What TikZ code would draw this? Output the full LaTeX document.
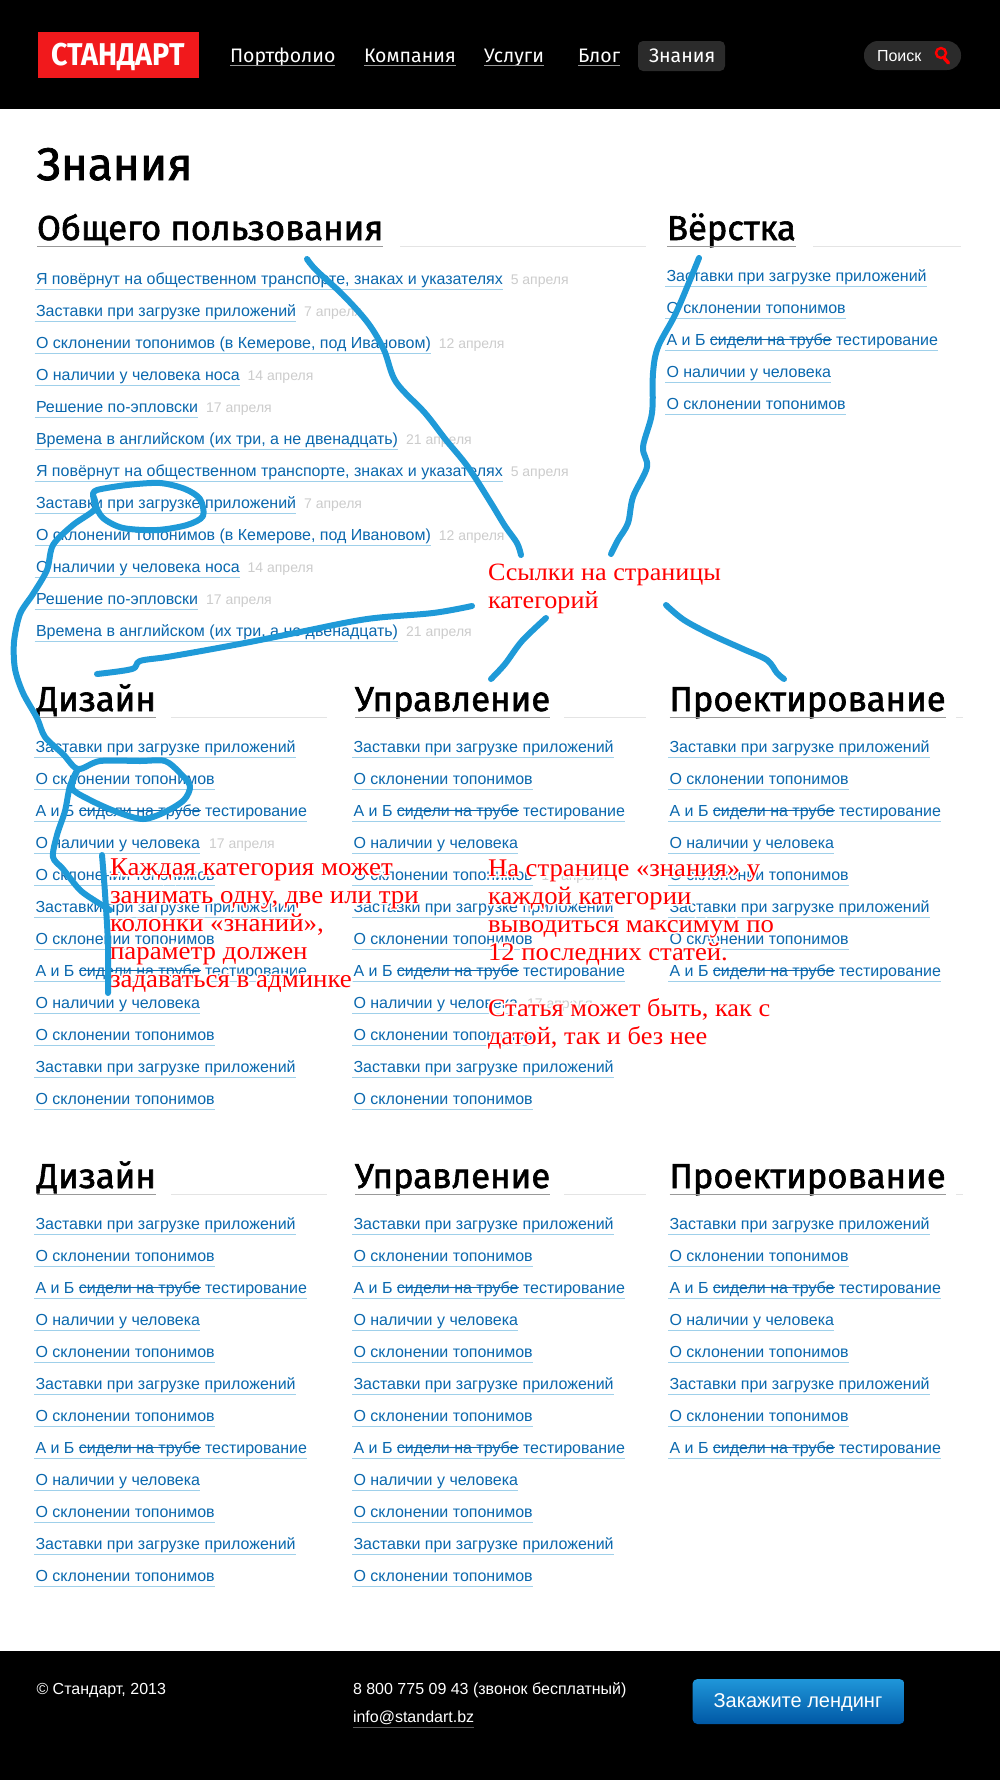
\documentclass[tikz,border=0pt]{standalone}
\usepackage{fontspec}
\setmainfont{Liberation Sans}
\newfontfamily\headf[FakeBold=1.7]{Fira Sans}
\newfontfamily\navf{Fira Sans}
\newfontfamily\logof[FakeStretch=0.91]{Fira Sans}
\newfontfamily\redf[FakeStretch=1.05]{Liberation Serif}
\newfontfamily\haloredf[FakeStretch=1.05,FakeBold=13]{Liberation Serif}
\definecolor{lnk}{HTML}{0A68AE}
\definecolor{ulc}{HTML}{9FD0EA}
\definecolor{dat}{HTML}{CCCCCC}
\definecolor{pen}{HTML}{1F9AD8}
\definecolor{hl}{HTML}{999999}
\definecolor{hs}{HTML}{E4E4E4}
\definecolor{redt}{HTML}{FF0000}
\definecolor{logor}{HTML}{F1191C}
\definecolor{pill}{HTML}{2B2B2B}
\definecolor{btna}{HTML}{1F96D9}
\definecolor{btnb}{HTML}{0058A5}
\tikzset{
 x=1pt,y=-1pt,
 every node/.style={inner sep=0pt,outer sep=0pt},
 linktxt/.style={anchor=base west,text=lnk,font=\fontsize{16}{16}\selectfont},
 datetxt/.style={anchor=base west,text=dat,font=\fontsize{14}{14}\selectfont},
 ulline/.style={draw=ulc,line width=1pt},
 bigh/.style={anchor=base west,text=black,font=\headf\fontsize{34.6}{34.6}\selectfont},
 navtxt/.style={anchor=base west,text=white,font=\navf\fontsize{19.5}{19.5}\selectfont},
 foot/.style={anchor=base west,text=white,font=\fontsize{16}{16}\selectfont},
 redtxt/.style={anchor=base west,text=redt,font=\redf\fontsize{#1}{#1}\selectfont},
 halotxt/.style={anchor=base west,text=white,font=\haloredf\fontsize{#1}{#1}\selectfont},
 penline/.style={draw=pen,line width=6pt,line cap=round,line join=round},
}
\newcommand{\stk}[1]{\setbox0=\hbox{#1}\rlap{\rule[0.3em]{\wd0}{0.9pt}}\box0{}}
\newcommand{\abt}{А и Б \stk{сидели на трубе} тестирование}
% \lnk{name}{x}{y}{text}
\newcommand{\lnk}[4]{\node[linktxt] (#1) at (#2,#3) {#4};
 \draw[ulline] ([xshift=-1.5pt,yshift=-5pt]#1.base west) -- ([yshift=-5pt]#1.base east);}
% \hd{name}{x}{baseline}{text}{light start}{light end}
\newcommand{\hd}[6]{\node[bigh] (#1) at (#2,#3) {#4};
 \draw[draw=hl,line width=1pt] ([yshift=-6.5pt]#1.base west) -- ([yshift=-6.5pt]#1.base east);
 \coordinate (#1a) at (#5,#3+6.5); \coordinate (#1b) at (#6,#3+6.5);
 \draw[draw=hs,line width=1pt] (#1a) -- (#1b);}
\newcommand{\rowset}[4]{% prefix, x, first y, count
 \foreach \k/\t in {0/{Заставки при загрузке приложений},1/{О склонении топонимов},2/{\abt},3/{О наличии у человека},4/{О склонении топонимов},5/{Заставки при загрузке приложений},6/{О склонении топонимов},7/{\abt},8/{О наличии у человека},9/{О склонении топонимов},10/{Заставки при загрузке приложений},11/{О склонении топонимов}}{
  \ifnum\k<#4\relax
   \lnk{#1\k}{#2}{#3+32*\k}{\t}
  \fi
 }}
\newcommand{\redlines}[5]{% prefix, style, x, first baseline, lines
 \foreach \k/\t in {#5}{\node[#2] (#1\k) at (#3,#4+28*\k) {\t};}}
\newcommand{\notes}[2]{% prefix, style name
 \redlines{#1a}{#2=24.9}{488}{580}{0/{Ссылки на страницы},1/{категорий}}
 \redlines{#1b}{#2=25.6}{110}{875}{0/{Каждая категория может},1/{занимать одну, две или три},2/{колонки «знаний»,},3/{параметр должен},4/{задаваться в админке}}
 \redlines{#1c}{#2=25.4}{488}{876}{0/{На странице «знания» у},1/{каждой категории},2/{выводиться максимум по},3/{12 последних статей.}}
 \redlines{#1d}{#2=25.1}{488}{1016}{0/{Статья может быть, как с},1/{датой, так и без нее}}}
\begin{document}
\begin{tikzpicture}
\useasboundingbox (0,0) rectangle (1000,1780);
\fill[white] (0,0) rectangle (1000,1780);
% header
\fill[black] (0,0) rectangle (1000,109);
\node[fill=logor,minimum width=161pt,minimum height=46pt,anchor=north west] (logo) at (38,32) {};
\node[anchor=base,text=white,font=\logof\bfseries\fontsize{31.5}{31.5}\selectfont] (logotxt) at (118,65.5) {СТАНДАРТ};
\foreach \n/\x/\t in {a/230/Портфолио,b/364/Компания,c/484/Услуги,d/578/Блог}{
 \node[navtxt] (nav\n) at (\x,62) {\t};
 \draw[draw=white!60!black,line width=1pt] ([yshift=-3.5pt]nav\n.base west) -- ([yshift=-3.5pt]nav\n.base east);
}
\fill[pill,rounded corners=5pt] (638,41) rectangle (725,71);
\node[navtxt] (nave) at (649,62) {Знания};
\fill[pill,rounded corners=14pt] (864,41) rectangle (961,70);
\node[anchor=base west,text=white,font=\fontsize{16}{16}\selectfont] (srch) at (877,61) {Поиск};
\draw[draw=redt,line width=2.4pt] (941,53) circle (5);
\draw[draw=redt,line width=3.4pt,line cap=round] (944,58) -- (948.5,63);
% titles
\node[anchor=base west,text=black,font=\headf\fontsize{45.7}{45.7}\selectfont] (title) at (37,180) {Знания};
\hd{hobs}{37}{240}{Общего пользования}{400}{646}
\hd{hver}{667}{240}{Вёрстка}{813}{961}
% general list
\foreach \k/\t/\d in {0/{Я повёрнут на общественном транспорте, знаках и указателях}/{5 апреля},1/{Заставки при загрузке приложений}/{7 апреля},2/{О склонении топонимов (в Кемерове, под Ивановом)}/{12 апреля},3/{О наличии у человека носа}/{14 апреля},4/{Решение по-эпловски}/{17 апреля},5/{Времена в английском (их три, а не двенадцать)}/{21 апреля},6/{Я повёрнут на общественном транспорте, знаках и указателях}/{5 апреля},7/{Заставки при загрузке приложений}/{7 апреля},8/{О склонении топонимов (в Кемерове, под Ивановом)}/{12 апреля},9/{О наличии у человека носа}/{14 апреля},10/{Решение по-эпловски}/{17 апреля},11/{Времена в английском (их три, а не двенадцать)}/{21 апреля}}{
 \lnk{g\k}{36}{284+32*\k}{\t}
 \node[datetxt] (gd\k) at ([xshift=8pt]g\k.base east) {\d};
}
% verstka list
\foreach \k/\t in {0/{Заставки при загрузке приложений},1/{О склонении топонимов},2/{\abt},3/{О наличии у человека},4/{О склонении топонимов}}{
 \lnk{v\k}{666.5}{281+32*\k}{\t}
}
% blocks
\hd{da}{37}{711}{Дизайн}{171}{327}
\hd{ua}{355}{711}{Управление}{564}{646}
\hd{pa}{669.5}{711}{Проектирование}{956}{963}
\rowset{dal}{35.5}{752}{12}
\rowset{ual}{353.5}{752}{12}
\rowset{pal}{669.5}{752}{8}
\node[datetxt] (dd3) at ([xshift=9pt]dal3.base east) {17 апреля};
\node[datetxt] (ud4) at ([xshift=9pt]ual4.base east) {17 апреля};
\node[datetxt] (ud8) at ([xshift=9pt]ual8.base east) {17 апреля};
\hd{db}{37}{1188}{Дизайн}{171}{327}
\hd{ub}{355}{1188}{Управление}{564}{646}
\hd{pb}{669.5}{1188}{Проектирование}{956}{963}
\rowset{dbl}{35.5}{1229}{12}
\rowset{ubl}{353.5}{1229}{12}
\rowset{pbl}{669.5}{1229}{8}
% footer
\fill[black] (0,1651) rectangle (1000,1780);
\node[foot] (fa) at (36.5,1694) {© Стандарт, 2013};
\node[foot] (fb) at (353,1694) {8 800 775 09 43 (звонок бесплатный)};
\node[foot] (fc) at (353,1722) {info@standart.bz};
\draw[draw=white!35!black,line width=1pt] ([yshift=-5pt]fc.base west) -- ([yshift=-5pt]fc.base east);
\shade[top color=btna,bottom color=btnb,rounded corners=5pt] (692.5,1679) rectangle (904.5,1724);
\node[anchor=base,text=white,font=\fontsize{20}{20}\selectfont] (btn) at (798,1707) {Закажите лендинг};
% halos
\notes{hn}{halotxt}
% pen strokes
\draw[penline] plot[smooth,tension=0.55] coordinates {(307,259)(316,270)(343,295)(368,323)(384,350)(396,382)(425,413)(446,440)(468,467)(491,503)(505,526)(517,543)(521,555)};
\draw[penline] plot[smooth,tension=0.55] coordinates {(699,258)(690,280)(675,315)(658,347)(653,373)(652,413)(643,447)(647,467)(633,497)(628,523)(618,540)(611,554)};
\draw[penline] plot[smooth,tension=0.55] coordinates {(546,618)(522,641)(505,664)(491,679)};
\draw[penline] plot[smooth,tension=0.55] coordinates {(666,605)(684,620)(712,635)(743,649)(767,660)(777,673)(784,679)};
\draw[penline] plot[smooth,tension=0.55] coordinates {(472,606)(433,613)(367,619)(300,632)(250,642)(207,650)(167,657)(140,661)(132,669)(97,674)};
\draw[penline] plot[smooth,tension=0.5] coordinates {(93,495)(97,490)(127,485)(160,483)(185,489)(200,499)(203,516)(187,525)(157,530)(123,528)(103,518)(95,504)(93,495)(95,509)(73,525)(53,545)(47,570)(33,594)(20,614)(14,642)(15,669)(23,693)(37,718)(45,737)(63,754)(78,769)(100,761)(140,761)(165,761)(180,773)(190,786)(184,800)(165,812)(143,819)(117,812)(90,800)(72,788)(78,769)(70,786)(65,811)(57,835)(53,857)(63,869)(80,890)(97,902)(110,910)};
\draw[penline] plot[smooth,tension=0.55] coordinates {(102,855)(105,893)(108,945)(108,993)};
% red notes
\notes{rn}{redtxt}
\end{tikzpicture}
\end{document}
